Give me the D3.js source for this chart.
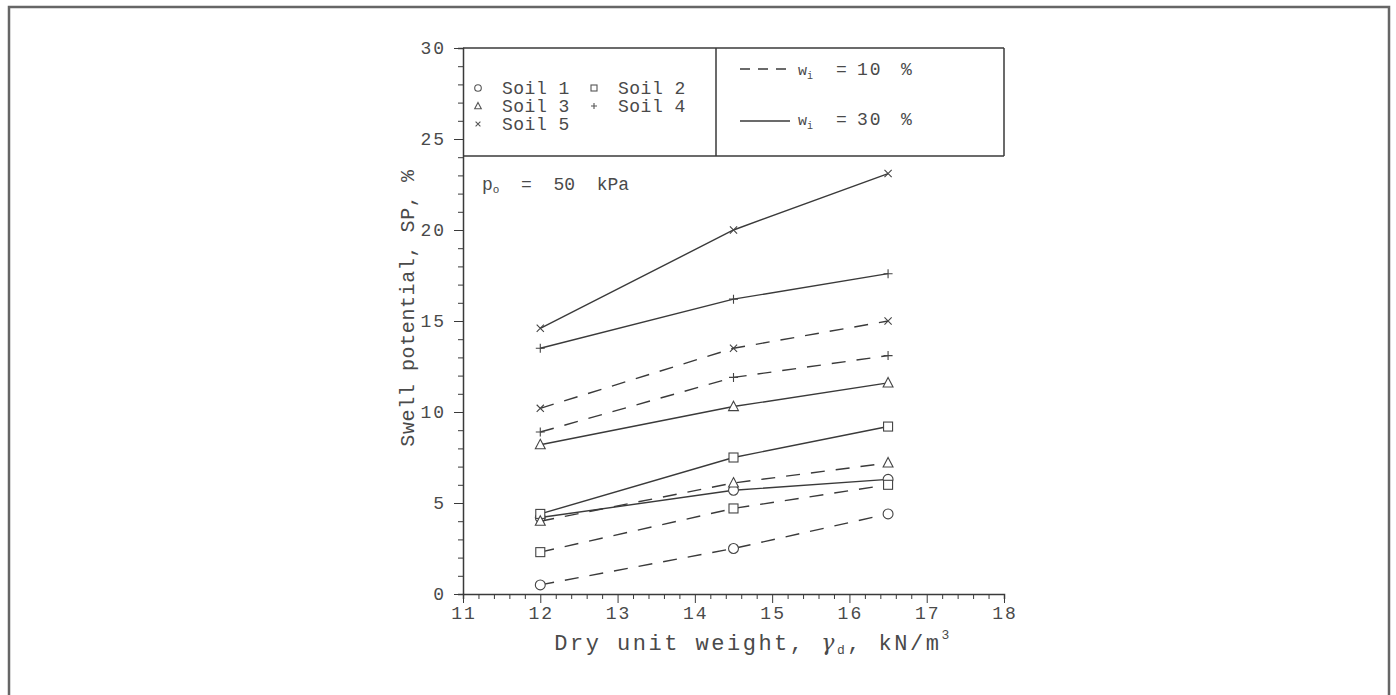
<!DOCTYPE html>
<html>
<head>
<meta charset="utf-8">
<script src="https://cdn.jsdelivr.net/npm/d3@7"></script>
<style>
  body { margin: 0; background: #fff; }
  svg text { font-family: "Liberation Mono", "DejaVu Sans Mono", monospace; fill: #4a4a4a; }
</style>
</head>
<body>
<script>
// data
var gammaD = [12, 14.5, 16.5];
var soil1_w10 = [0.5, 2.5, 4.4];
var soil1_w30 = [4.2, 5.7, 6.3];
var soil2_w10 = [2.3, 4.7, 6.0];
var soil2_w30 = [4.4, 7.5, 9.2];
var soil3_w10 = [4.0, 6.1, 7.2];
var soil3_w30 = [8.2, 10.3, 11.6];
var soil4_w10 = [8.9, 11.9, 13.1];
var soil4_w30 = [13.5, 16.2, 17.6];
var soil5_w10 = [10.2, 13.5, 15.0];
var soil5_w30 = [14.6, 20.0, 23.1];
var soilNames = ["Soil 1", "Soil 2", "Soil 3", "Soil 4", "Soil 5"];
var soilMarkers = ["circle", "square", "triangle", "plus", "cross"];
var xTicks = [11, 12, 13, 14, 15, 16, 17, 18];
var yTicks = [0, 5, 10, 15, 20, 25, 30];

var series = [
  { soil: 0, dash: true, v: soil1_w10 },
  { soil: 0, dash: false, v: soil1_w30 },
  { soil: 1, dash: true, v: soil2_w10 },
  { soil: 1, dash: false, v: soil2_w30 },
  { soil: 2, dash: true, v: soil3_w10 },
  { soil: 2, dash: false, v: soil3_w30 },
  { soil: 3, dash: true, v: soil4_w10 },
  { soil: 3, dash: false, v: soil4_w30 },
  { soil: 4, dash: true, v: soil5_w10 },
  { soil: 4, dash: false, v: soil5_w30 }
];

var width = 1396;
var height = 695;
var ink = "#3a3a3a";

var svg = d3
  .select("body")
  .append("svg")
  .attr("width", width)
  .attr("height", height);

// outer frame of the scanned page
svg
  .append("path")
  .attr("d", "M9,700 L9,7 L1389,7 L1389,700")
  .attr("fill", "none")
  .attr("stroke", "#666")
  .attr("stroke-width", 2.5);

var xScale = d3.scaleLinear().domain([11, 18]).range([463, 1004]);
var yScale = d3.scaleLinear().domain([0, 30]).range([594, 48]);

// x axis
var xAxis = svg
  .append("g")
  .attr("transform", "translate(0," + yScale(0) + ")")
  .call(
    d3.axisBottom(xScale)
      .tickValues(d3.range(11, 18.01, 0.2))
      .tickSize(5)
      .tickFormat("")
  );
xAxis.selectAll(".tick line")
  .attr("stroke", ink)
  .attr("y2", function(d) { return Math.abs(d - Math.round(d)) < 0.01 ? 9 : 5; });
xAxis.select(".domain").attr("stroke", ink).attr("stroke-width", 1.5);
svg
  .append("g")
  .selectAll("text")
  .data(xTicks)
  .enter()
  .append("text")
  .attr("x", function(d) { return xScale(d) + 1; })
  .attr("y", 619)
  .attr("text-anchor", "middle")
  .attr("font-size", 18)
  .attr("letter-spacing", 2)
  .text(function(d) { return d; });

// y axis
var yAxis = svg
  .append("g")
  .attr("transform", "translate(" + xScale(11) + ",0)")
  .call(
    d3.axisLeft(yScale)
      .tickValues(d3.range(0, 31, 1))
      .tickSize(5)
      .tickFormat("")
  );
yAxis.selectAll(".tick line")
  .attr("stroke", ink)
  .attr("x2", function(d) { return d % 5 == 0 ? -9 : -5; });
yAxis.select(".domain").attr("stroke", ink).attr("stroke-width", 1.5);
svg
  .append("g")
  .selectAll("text")
  .data(yTicks)
  .enter()
  .append("text")
  .attr("x", 446)
  .attr("y", function(d) { return yScale(d) + 6; })
  .attr("text-anchor", "end")
  .attr("font-size", 18)
  .attr("letter-spacing", 2)
  .text(function(d) { return d; });

// axis titles
var xt = svg
  .append("text")
  .attr("x", 753)
  .attr("y", 650)
  .attr("text-anchor", "middle")
  .attr("font-size", 22)
  .attr("letter-spacing", 2.5);
xt.append("tspan").text("Dry unit weight, ");
xt.append("tspan").attr("font-family", "DejaVu Serif").attr("font-style", "italic").text("γ");
xt.append("tspan").attr("font-size", 13).attr("dy", 4).text("d");
xt.append("tspan").attr("dy", -4).text(", kN/m");
xt.append("tspan").attr("font-size", 13).attr("dy", -11).text("3");

svg
  .append("text")
  .attr("transform", "translate(414,308) rotate(-90)")
  .attr("text-anchor", "middle")
  .attr("font-size", 20)
  .attr("letter-spacing", 0.6)
  .text("Swell potential, SP, %");

// legend boxes
var box = svg.append("g").attr("fill", "none").attr("stroke", ink).attr("stroke-width", 1.5);
box.append("line").attr("x1", xScale(11)).attr("x2", xScale(18)).attr("y1", yScale(30)).attr("y2", yScale(30));
box.append("line").attr("x1", xScale(11)).attr("x2", xScale(18)).attr("y1", 156).attr("y2", 156);
box.append("line").attr("x1", 716).attr("x2", 716).attr("y1", yScale(30)).attr("y2", 156);
box.append("line").attr("x1", xScale(18)).attr("x2", xScale(18)).attr("y1", yScale(30)).attr("y2", 156);

// marker drawing
function marker(g, type, x, y, s) {
  if (type == "circle") {
    g.append("circle").attr("cx", x).attr("cy", y).attr("r", s * 0.55);
  } else if (type == "square") {
    g.append("rect").attr("x", x - s / 2).attr("y", y - s / 2).attr("width", s).attr("height", s);
  } else if (type == "triangle") {
    g.append("path").attr("d", "M" + x + "," + (y - s * 0.6) + " L" + (x + s * 0.55) + "," + (y + s * 0.45) + " L" + (x - s * 0.55) + "," + (y + s * 0.45) + " Z");
  } else if (type == "plus") {
    g.append("path").attr("d", "M" + (x - s / 2) + "," + y + " H" + (x + s / 2) + " M" + x + "," + (y - s / 2) + " V" + (y + s / 2));
  } else {
    var h = s * 0.4;
    g.append("path").attr("d", "M" + (x - h) + "," + (y - h) + " L" + (x + h) + "," + (y + h) + " M" + (x - h) + "," + (y + h) + " L" + (x + h) + "," + (y - h));
  }
}

// soil legend
var legPos = [[478, 88], [594, 88], [478, 106], [594, 106], [478, 124]];
var leg = svg.append("g").attr("fill", "none").attr("stroke", "#555").attr("stroke-width", 1.1);
soilNames.forEach(function(name, i) {
  marker(leg, soilMarkers[i], legPos[i][0], legPos[i][1], 6);
  svg
    .append("text")
    .attr("x", legPos[i][0] + 24)
    .attr("y", legPos[i][1] + 6)
    .attr("font-size", 18)
    .attr("letter-spacing", 0.5)
    .text(name);
});

// line-style legend
svg.append("line").attr("x1", 740).attr("x2", 786).attr("y1", 69).attr("y2", 69)
  .attr("stroke", ink).attr("stroke-width", 1.3).attr("stroke-dasharray", "10,8");
svg.append("line").attr("x1", 740).attr("x2", 790).attr("y1", 121).attr("y2", 121)
  .attr("stroke", ink).attr("stroke-width", 1.3);
[["10", 75], ["30", 125]].forEach(function(d) {
  var w = svg.append("text").attr("x", 798).attr("y", d[1]).attr("font-size", 18);
  w.append("tspan").attr("font-size", 15).text("w");
  w.append("tspan").attr("font-size", 10).attr("dy", 4).text("i");
  svg.append("text").attr("x", 836).attr("y", d[1]).attr("font-size", 18).text("=");
  svg.append("text").attr("x", 857).attr("y", d[1]).attr("font-size", 18).attr("letter-spacing", 2).text(d[0]);
  svg.append("text").attr("x", 901).attr("y", d[1]).attr("font-size", 18).text("%");
});

// pressure label
var pt = svg.append("text").attr("x", 482).attr("y", 190).attr("font-size", 18).attr("xml:space", "preserve");
pt.append("tspan").text("p");
pt.append("tspan").attr("font-size", 11).attr("dy", 3).text("o");
pt.append("tspan").attr("dy", -3).text("  =  50  kPa");

// data lines
var line = d3
  .line()
  .x(function(d, i) { return xScale(gammaD[i]); })
  .y(function(d) { return yScale(d); });

var plot = svg.append("g");
series.forEach(function(s) {
  plot
    .append("path")
    .attr("d", line(s.v))
    .attr("fill", "none")
    .attr("stroke", ink)
    .attr("stroke-width", 1.4)
    .attr("stroke-dasharray", s.dash ? "14,11" : null);
  var mg = plot.append("g").attr("fill", "#fff").attr("stroke", "#444").attr("stroke-width", 1.1);
  s.v.forEach(function(v, i) {
    var m = soilMarkers[s.soil];
    if (m == "plus" || m == "cross") mg.attr("fill", "none");
    marker(mg, m, xScale(gammaD[i]), yScale(v), 9);
  });
});
</script>
</body>
</html>
